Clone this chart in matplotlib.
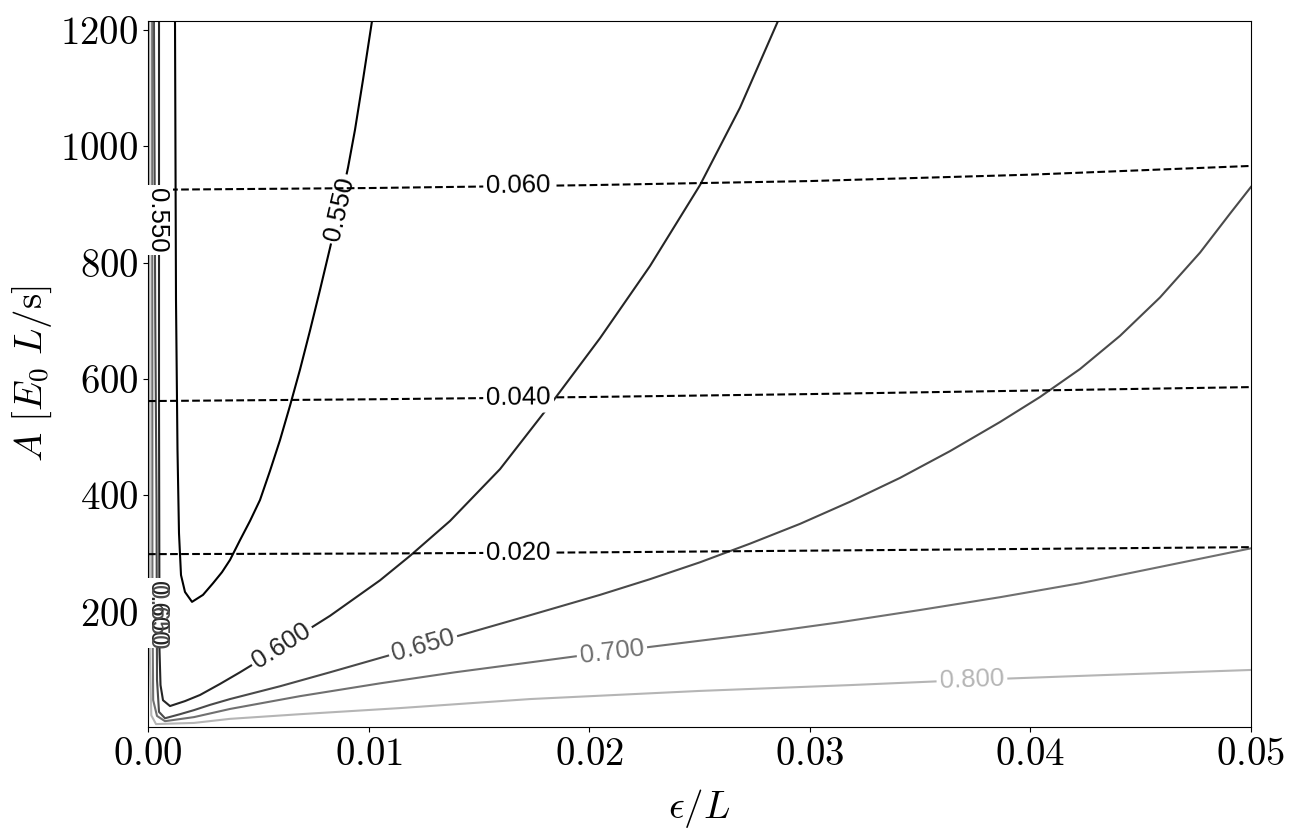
import numpy as np
import matplotlib
matplotlib.use('Agg')
import matplotlib.pyplot as plt

plt.rcParams['mathtext.fontset'] = 'cm'
plt.rcParams['font.family'] = ['Liberation Sans', 'DejaVu Sans']

# --- contour lines (eps/L, A) ---
# solid levels
x_055 = [0.001224, 0.001269, 0.001337, 0.001405, 0.001496, 0.001677, 0.001995, 0.002493,
         0.002947, 0.003354, 0.003717, 0.004170, 0.004624, 0.005077, 0.005530, 0.005984,
         0.006437, 0.006890, 0.007343, 0.007797, 0.008250, 0.008703, 0.009066, 0.009383,
         0.009746, 0.010154]
y_055 = [1215, 736, 478, 335, 263, 234, 217, 229, 249, 268, 289, 323, 356, 392, 442, 495,
         554, 616, 683, 753, 825, 899, 963, 1028, 1114, 1215]

x_060 = [0.000499, 0.000499, 0.000521, 0.000567, 0.000680, 0.000997, 0.001677, 0.002357,
         0.003264, 0.004170, 0.005077, 0.006074, 0.008250, 0.010517, 0.011876, 0.013690,
         0.015956, 0.018359, 0.020489, 0.022756, 0.025022, 0.026835, 0.028558]
y_060 = [1215, 564, 134, 74, 48, 38, 46.5, 57, 76, 96, 117, 141, 193, 254, 296, 356,
         445, 562, 670, 794, 933, 1066, 1215]

x_065 = [0.000270, 0.000330, 0.000385, 0.000408, 0.000499, 0.000771, 0.001451, 0.002085,
         0.002810, 0.003717, 0.005984, 0.008250, 0.011106, 0.014007, 0.017316, 0.020489,
         0.022756, 0.025022, 0.027289, 0.029556, 0.031822, 0.034089, 0.036356, 0.038622,
         0.040436, 0.042248, 0.044061, 0.045874, 0.047688, 0.049048, 0.050000]
y_065 = [1215, 700, 392, 83, 28, 17, 24, 31, 40, 50, 72, 96, 127, 158, 194, 229, 256, 285,
         317, 351, 389, 430, 476, 526, 569, 617, 674, 740, 817, 884, 930]

x_070 = [0.000190, 0.000200, 0.000235, 0.000408, 0.000771, 0.002085, 0.003717, 0.006890,
         0.010517, 0.013917, 0.017316, 0.020489, 0.024116, 0.027742, 0.031369, 0.034995,
         0.038622, 0.042248, 0.045874, 0.050000]
y_070 = [1215, 220, 48, 21, 12, 19, 33, 55, 77, 96, 113, 129, 146, 163, 182, 203, 225,
         249, 277, 309]

x_080 = [0.000060, 0.000080, 0.000150, 0.000363, 0.002085, 0.003717, 0.006890, 0.011423,
         0.017316, 0.025022, 0.031822, 0.037349, 0.043155, 0.050000]
y_080 = [1215, 134, 22, 7, 9, 16, 24, 34.5, 50, 64, 74, 83, 91, 100]

# dashed levels
x_dash = [0.0, 0.01, 0.02, 0.03, 0.04, 0.05]
y_002 = [299, 300, 302, 305, 308, 311]
y_004 = [562, 565, 569, 574, 580, 586]
y_006 = [925, 928, 933, 940, 951, 966]

solid_levels = ['0.550', '0.600', '0.650', '0.700', '0.800']
solid_x = [x_055, x_060, x_065, x_070, x_080]
solid_y = [y_055, y_060, y_065, y_070, y_080]
solid_colors = ['#000000', '#252525', '#4a4a4a', '#707070', '#b5b5b5']
solid_label_x = [0.00866, 0.00607, 0.01247, 0.02103, 0.03735]

dash_levels = ['0.020', '0.040', '0.060']
dash_y = [y_002, y_004, y_006]
dash_label_x = [0.0168, 0.0168, 0.0168]

W, H = 1301, 839
fig = plt.figure(figsize=(W / 100, H / 100), dpi=100)
ax = fig.add_axes([148 / W, 1 - 727 / H, 1103 / W, 706 / H])
ax.set_xlim(0, 0.05)
ax.set_ylim(2, 1215)

lab_size = 18.5
box = dict(boxstyle='square,pad=0.12', fc='white', ec='none')


def put_label(xs, ys, x0, text, color, z):
    xs = np.asarray(xs, float)
    ys = np.asarray(ys, float)
    i = np.searchsorted(xs, x0) - 1
    i = min(max(i, 0), len(xs) - 2)
    p = ax.transData.transform([[xs[i], ys[i]], [xs[i + 1], ys[i + 1]]])
    ang = np.degrees(np.arctan2(p[1, 1] - p[0, 1], p[1, 0] - p[0, 0]))
    t = (x0 - xs[i]) / (xs[i + 1] - xs[i])
    y0 = ys[i] + t * (ys[i + 1] - ys[i])
    ax.text(x0, y0, text, color=color, fontsize=lab_size, rotation=ang,
            rotation_mode='anchor', ha='center', va='center', bbox=box, zorder=z)


for lev, xs, ys, c, lx in zip(solid_levels, solid_x, solid_y, solid_colors, solid_label_x):
    ax.plot(xs, ys, color=c, lw=1.5, zorder=2)
    put_label(xs, ys, lx, lev, c, 3)

for lev, ys, lx in zip(dash_levels, dash_y, dash_label_x):
    ax.plot(x_dash, ys, color='black', lw=1.5, ls='--', zorder=4)
    put_label(x_dash, ys, lx, lev, 'black', 5)

# labels on the near-vertical branches at the left edge
ax.text(0.00043, 873, '0.550', color='black', fontsize=lab_size, rotation=270,
        rotation_mode='anchor', ha='center', va='center', bbox=box, zorder=6)
ax.text(0.00043, 198, '0.600', color='#252525', fontsize=lab_size, rotation=270,
        rotation_mode='anchor', ha='center', va='center', bbox=box, zorder=6)
ax.text(0.00040, 190, '0.650', color='#4a4a4a', fontsize=lab_size, rotation=270,
        rotation_mode='anchor', ha='center', va='center', zorder=7)

ax.set_xticks([0.0, 0.01, 0.02, 0.03, 0.04, 0.05])
ax.set_xticklabels([r'$%.2f$' % v for v in [0.0, 0.01, 0.02, 0.03, 0.04, 0.05]])
ax.set_yticks([200, 400, 600, 800, 1000, 1200])
ax.set_yticklabels([r'$%d$' % v for v in [200, 400, 600, 800, 1000, 1200]])
ax.tick_params(labelsize=28)

ax.set_xlabel(r'$\epsilon/L$', fontsize=28)
ax.set_ylabel(r'$A\ [E_0\ L/\mathrm{s}]$', fontsize=28)
ax.xaxis.set_label_coords(0.5, -0.085)
ax.yaxis.set_label_coords(-0.085, 0.5)

fig.savefig('out.png', dpi=100)
